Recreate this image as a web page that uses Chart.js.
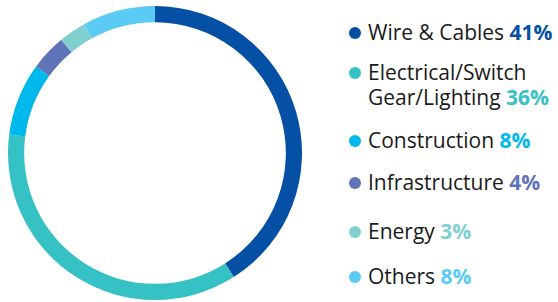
<!DOCTYPE html>
<html>
<head>
<meta charset="utf-8">
<script src="https://cdn.jsdelivr.net/npm/chart.js@4/dist/chart.umd.min.js"></script>
<style>
  html, body { margin: 0; padding: 0; background: #fff; }
  body { width: 558px; height: 302px; position: relative; overflow: hidden; font-family: "Open Sans", Lato, sans-serif; }
  #wrap { position: absolute; left: 8px; top: 6px; width: 294px; height: 294px; }
  .item { position: absolute; left: 349px; font-size: 21px; color: #1a1a1a; line-height: 25px; white-space: nowrap; }
  .item .dot { position: absolute; left: 0; width: 12px; height: 12px; border-radius: 50%; }
  .item .txt { position: absolute; left: 19px; top: 0; }
  .item b { font-weight: 700; }
</style>
</head>
<body>
<div id="wrap"><canvas id="industryChart"></canvas></div>
<div id="legend"></div>
<script>
const categories = ['Wire & Cables', 'Electrical/Switch\nGear/Lighting', 'Construction', 'Infrastructure', 'Energy', 'Others'];
const shares = [41, 36, 8, 4, 3, 8];
const colors = ['#0550a5', '#36c1c4', '#00b9ec', '#5e73b8', '#80d0d0', '#5acbf5'];
const legendTops = [20, 60, 128, 170, 219, 264];

function buildLegend() {
    const legend = document.getElementById('legend');
    categories.forEach((name, i) => {
        const item = document.createElement('div');
        item.className = 'item';
        item.style.top = legendTops[i] + 'px';
        const dot = document.createElement('span');
        dot.className = 'dot';
        dot.style.background = colors[i];
        dot.style.top = '7px';
        item.appendChild(dot);
        const txt = document.createElement('span');
        txt.className = 'txt';
        const lines = name.split('\n');
        txt.innerHTML = lines.join('<br>') + ' <b style="color:' + colors[i] + '">' + shares[i] + '%</b>';
        item.appendChild(txt);
        legend.appendChild(item);
    });
}

function drawIndustryChart() {
    const ctx = document.getElementById('industryChart').getContext('2d');

    return new Chart(ctx, {
        type: 'doughnut',
        data: {
            labels: categories,
            datasets: [{
                data: shares,
                backgroundColor: colors,
                borderWidth: 0
            }]
        },
        options: {
            responsive: true,
            maintainAspectRatio: false,
            animation: false,
            cutout: '89%',
            layout: { padding: 0 },
            plugins: {
                legend: { display: false },
                tooltip: { enabled: false }
            }
        }
    });
}

buildLegend();
drawIndustryChart();
</script>
</body>
</html>
